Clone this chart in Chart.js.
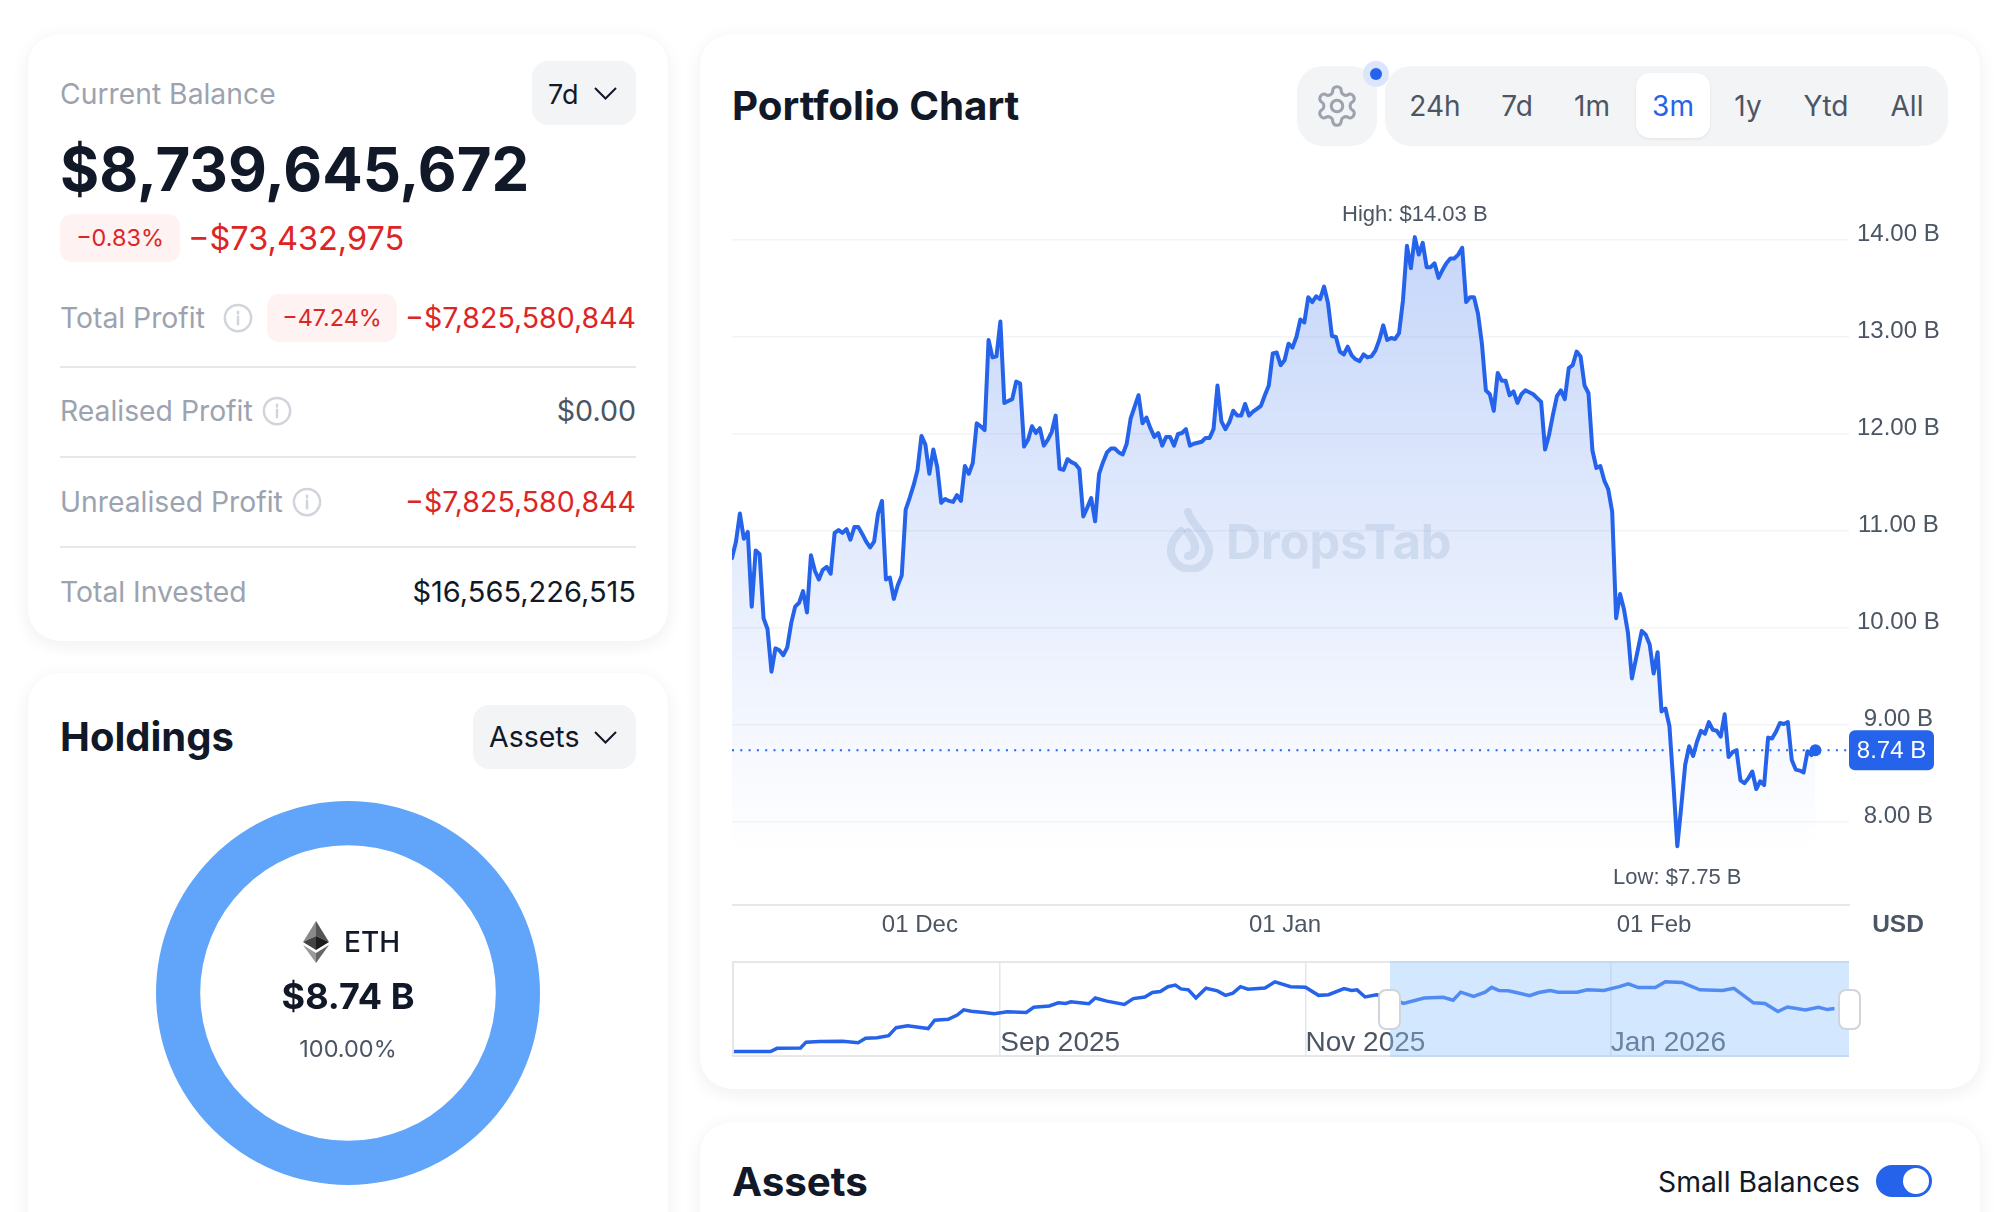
<!DOCTYPE html>
<html lang="en">
<head>
<meta charset="UTF-8">
<title>Portfolio Chart</title>
<script src="https://cdn.jsdelivr.net/npm/chart.js"></script>
<style>
    html, body { margin: 0; background: #fff; }
    body { width: 2004px; height: 1212px; overflow: hidden; position: relative; font-family: Inter, sans-serif; color: #111827; }
    .card { position: absolute; background: #fff; border-radius: 32px; box-shadow: 0 4px 18px rgba(17, 24, 39, .07); }
    .t { position: absolute; white-space: nowrap; line-height: 1; }
    .r { transform: translateX(-100%); }
    .c { transform: translateX(-50%); }
    .grey { color: #9ca3af; font-size: 28.3px; }
    .red { color: #dc2626; }
    .bold { font-weight: 700; }
    .box { position: absolute; background: #f3f4f6; }
    .badge { position: absolute; background: #fef2f2; border-radius: 12px; }
    .line { position: absolute; left: 60px; width: 576px; height: 2px; background: #e5e7eb; }
    .tab { font-size: 28px; color: #4b5563; top: 92px; transform: translateX(-50%); }
    svg { position: absolute; }
    canvas { position: absolute; display: block; }
    .handle { position: absolute; width: 23px; height: 41px; top: 989px; background: #fff; border: 2px solid #d1d5db; box-sizing: border-box; border-radius: 8px; }
</style>
</head>
<body>
    <svg width="0" height="0">
        <defs>
            <g id="info" fill="none" stroke="#d1d5db" stroke-width="2">
                <circle cx="12" cy="12" r="10.5"/>
                <path d="M12 11v6M12 7v1.4" stroke-linecap="round"/>
            </g>
        </defs>
    </svg>

    <!-- balance card -->
    <div class="card" style="left:28px;top:34px;width:640px;height:607px"></div>
    <div class="t grey" style="left:60px;top:80px">Current Balance</div>
    <div class="box" style="left:532px;top:61px;width:104px;height:64px;border-radius:16px"></div>
    <div class="t" style="left:548px;top:81px;font-size:27px">7d</div>
    <svg style="left:594px;top:86px" width="24" height="15"><path d="M1 2l10.5 10.5L22 2" fill="none" stroke="#111827" stroke-width="2"/></svg>
    <div class="t bold" style="left:60px;top:140px;font-size:59.9px">$8,739,645,672</div>
    <div class="badge" style="left:60px;top:214px;width:120px;height:48px"></div>
    <div class="t red c" style="left:120px;top:226px;font-size:23.4px">−0.83%</div>
    <div class="t red" style="left:188px;top:223px;font-size:32.5px">−$73,432,975</div>

    <div class="t grey" style="left:60px;top:304px">Total Profit</div>
    <svg style="left:223px;top:303px" width="30" height="30" viewBox="0 0 24 24"><use href="#info"/></svg>
    <div class="badge" style="left:267px;top:294px;width:130px;height:48px"></div>
    <div class="t red c" style="left:332px;top:306px;font-size:23.4px">−47.24%</div>
    <div class="t red r" style="left:636px;top:304px;font-size:28.5px">−$7,825,580,844</div>
    <div class="line" style="top:366px"></div>

    <div class="t grey" style="left:60px;top:397px">Realised Profit</div>
    <svg style="left:262px;top:396px" width="30" height="30" viewBox="0 0 24 24"><use href="#info"/></svg>
    <div class="t r" style="left:636px;top:397px;font-size:28.6px;color:#4b5563">$0.00</div>
    <div class="line" style="top:456px"></div>

    <div class="t grey" style="left:60px;top:488px">Unrealised Profit</div>
    <svg style="left:292px;top:487px" width="30" height="30" viewBox="0 0 24 24"><use href="#info"/></svg>
    <div class="t red r" style="left:636px;top:488px;font-size:28.5px">−$7,825,580,844</div>
    <div class="line" style="top:546px"></div>

    <div class="t grey" style="left:60px;top:578px">Total Invested</div>
    <div class="t r" style="left:636px;top:577px;font-size:29px">$16,565,226,515</div>

    <!-- holdings card -->
    <div class="card" style="left:28px;top:673px;width:640px;height:600px"></div>
    <div class="t bold" style="left:60px;top:717px;font-size:40px">Holdings</div>
    <div class="box" style="left:473px;top:705px;width:163px;height:64px;border-radius:16px"></div>
    <div class="t" style="left:489px;top:723px;font-size:28.5px">Assets</div>
    <svg style="left:594px;top:730px" width="24" height="15"><path d="M1 2l10.5 10.5L22 2" fill="none" stroke="#111827" stroke-width="2"/></svg>
    <canvas id="holdingsChart" width="384" height="384" style="left:156px;top:801px"></canvas>
    <svg style="left:303px;top:921px" width="26" height="42" viewBox="0 0 26 42">
        <polygon points="13,0 0,21 13,15" fill="#8a8a8a"/>
        <polygon points="13,0 26,21 13,15" fill="#555"/>
        <polygon points="13,15 0,21 13,29" fill="#444"/>
        <polygon points="13,15 26,21 13,29" fill="#1c1c1c"/>
        <polygon points="0,24 13,42 13,32" fill="#9a9a9a"/>
        <polygon points="26,24 13,42 13,32" fill="#666"/>
    </svg>
    <div class="t" style="left:344px;top:928px;font-size:28px;font-weight:500">ETH</div>
    <div class="t bold c" style="left:348px;top:978px;font-size:36px">$8.74 B</div>
    <div class="t c" style="left:348px;top:1037px;font-size:23.5px;color:#4b5563">100.00%</div>

    <!-- portfolio chart card -->
    <div class="card" style="left:700px;top:34px;width:1280px;height:1055px"></div>
    <div class="t bold" style="left:732px;top:86px;font-size:40.3px">Portfolio Chart</div>
    <div class="box" style="left:1297px;top:66px;width:80px;height:80px;border-radius:26px"></div>
    <svg style="left:1314px;top:83px" width="46" height="46" viewBox="0 0 24 24" fill="none" stroke="#9ca3af" stroke-width="1.6">
        <path d="M12.22 2h-.44a2 2 0 0 0-2 2v.18a2 2 0 0 1-1 1.73l-.43.25a2 2 0 0 1-2 0l-.15-.08a2 2 0 0 0-2.73.73l-.22.38a2 2 0 0 0 .73 2.73l.15.1a2 2 0 0 1 1 1.72v.51a2 2 0 0 1-1 1.74l-.15.09a2 2 0 0 0-.73 2.73l.22.38a2 2 0 0 0 2.73.73l.15-.08a2 2 0 0 1 2 0l.43.25a2 2 0 0 1 1 1.73V20a2 2 0 0 0 2 2h.44a2 2 0 0 0 2-2v-.18a2 2 0 0 1 1-1.73l.43-.25a2 2 0 0 1 2 0l.15.08a2 2 0 0 0 2.73-.73l.22-.39a2 2 0 0 0-.73-2.73l-.15-.08a2 2 0 0 1-1-1.74v-.5a2 2 0 0 1 1-1.74l.15-.09a2 2 0 0 0 .73-2.73l-.22-.38a2 2 0 0 0-2.73-.73l-.15.08a2 2 0 0 1-2 0l-.43-.25a2 2 0 0 1-1-1.73V4a2 2 0 0 0-2-2z"/>
        <circle cx="12" cy="12" r="3"/>
    </svg>
    <svg style="left:1362px;top:60px" width="28" height="28"><circle cx="14" cy="14" r="13" fill="#dbe6fd"/><circle cx="14" cy="14" r="6" fill="#2563eb"/></svg>
    <div class="box" style="left:1385px;top:66px;width:563px;height:80px;border-radius:26px"></div>
    <div class="box" style="left:1636px;top:73px;width:74px;height:65px;border-radius:14px;background:#fff;box-shadow:0 1px 3px rgba(0,0,0,.08)"></div>
    <div class="t tab" style="left:1435px">24h</div>
    <div class="t tab" style="left:1517px">7d</div>
    <div class="t tab" style="left:1592px">1m</div>
    <div class="t tab" style="left:1673px;color:#2563eb">3m</div>
    <div class="t tab" style="left:1748px">1y</div>
    <div class="t tab" style="left:1826px">Ytd</div>
    <div class="t tab" style="left:1907px">All</div>

    <canvas id="balanceChart" width="1215" height="790" style="left:732px;top:160px"></canvas>
    <svg style="left:1166px;top:508px" width="48" height="64" viewBox="0 0 48 64" fill="none" stroke="#5a78a0" stroke-opacity=".15" stroke-width="8" stroke-linecap="round">
        <path d="M22 4c2 10 16 20 20 32a19 19 0 1 1-36 0c2-6 6-10 9-13"/>
        <path d="M22 24c6 8 9 14 6 20-2 3-4 4-6 4"/>
    </svg>
    <div class="t bold" style="left:1226px;top:518px;font-size:48.6px;color:rgba(90,120,160,.15);font-family:Inter, sans-serif">DropsTab</div>
    <div class="t c" style="left:1898px;top:912px;font-size:24.5px;font-weight:700;color:#4b5563;font-family:'Liberation Sans', sans-serif">USD</div>

    <!-- range navigator -->
    <div style="position:absolute;left:732px;top:961px;width:1117px;height:96px;box-sizing:border-box;border:2px solid #e5e7eb;border-right:none">
        <canvas id="navChart" width="1115" height="92" style="left:0;top:0"></canvas>
    </div>
    <div style="position:absolute;left:1390px;top:961px;width:459px;height:96px;background:rgba(147,197,253,.41)"></div>
    <div class="handle" style="left:1378px"></div>
    <div class="handle" style="left:1838px"></div>

    <!-- assets card -->
    <div class="card" style="left:700px;top:1122px;width:1280px;height:200px"></div>
    <div class="t bold" style="left:732px;top:1162px;font-size:40.3px">Assets</div>
    <div class="t r" style="left:1860px;top:1168px;font-size:28.3px">Small Balances</div>
    <div class="box" style="left:1876px;top:1165px;width:56px;height:32px;border-radius:16px;background:#2563eb"></div>
    <div class="box" style="left:1903px;top:1168px;width:26px;height:26px;border-radius:13px;background:#fff"></div>

    <script>
        // values in billions of USD, one reading every 8 hours
        const balance = [
            10.72, 10.89, 11.18, 10.92, 10.99, 10.22, 10.80, 10.76, 10.10, 9.99,
            9.55, 9.79, 9.77, 9.72, 9.80, 10.05, 10.22, 10.26, 10.38, 10.16,
            10.75, 10.59, 10.50, 10.60, 10.63, 10.56, 10.98, 11.01, 10.98, 11.02,
            10.91, 11.04, 11.04, 10.97, 10.89, 10.83, 10.89, 11.18, 11.31, 10.50,
            10.52, 10.30, 10.44, 10.54, 11.22, 11.34, 11.47, 11.63, 11.98, 11.89,
            11.59, 11.84, 11.66, 11.29, 11.33, 11.31, 11.30, 11.37, 11.31, 11.67,
            11.59, 11.70, 12.11, 12.08, 12.04, 12.97, 12.79, 12.80, 13.16, 12.32,
            12.34, 12.36, 12.54, 12.52, 11.87, 11.94, 12.08, 12.01, 12.06, 11.88,
            11.94, 12.02, 12.19, 11.64, 11.63, 11.74, 11.71, 11.69, 11.64, 11.15,
            11.24, 11.34, 11.10, 11.59, 11.71, 11.81, 11.85, 11.85, 11.81, 11.79,
            11.90, 12.16, 12.28, 12.40, 12.11, 12.17, 12.06, 11.97, 12.01, 11.88,
            11.97, 11.97, 11.88, 12.00, 12.01, 12.05, 11.88, 11.90, 11.91,
            11.92, 11.96, 11.96, 12.05, 12.50, 12.13, 12.05, 12.12, 12.24, 12.19,
            12.19, 12.31, 12.19, 12.23, 12.26, 12.29, 12.40, 12.50, 12.83, 12.84,
            12.71, 12.76, 12.93, 12.89, 13.00, 13.18, 13.15, 13.41, 13.36, 13.42,
            13.39, 13.52, 13.35, 13.01, 13.00, 12.85, 12.82, 12.90, 12.81, 12.77,
            12.75, 12.82, 12.79, 12.80, 12.86, 12.97, 13.12, 12.97, 12.99, 12.98,
            13.04, 13.38, 13.94, 13.71, 14.03, 13.85, 13.97, 13.72, 13.72, 13.76,
            13.61, 13.69, 13.76, 13.81, 13.81, 13.85, 13.92, 13.36, 13.41, 13.41,
            13.24, 12.93, 12.45, 12.41, 12.24, 12.63, 12.55, 12.55, 12.40, 12.44,
            12.32, 12.41, 12.45, 12.43, 12.41, 12.37, 12.33, 11.84, 11.99, 12.20,
            12.39, 12.45, 12.36, 12.68, 12.71, 12.85, 12.80, 12.50, 12.42, 11.83,
            11.65, 11.67, 11.52, 11.43, 11.20, 10.10, 10.35, 10.19, 9.95, 9.48,
            9.97, 9.93, 9.83, 9.53, 9.75, 9.14, 9.17, 8.99, 8.40, 7.75,
            8.16, 8.59, 8.78, 8.68, 8.83, 8.94, 8.91, 9.03, 8.95, 8.94,
            8.88, 9.11, 8.67, 8.72, 8.74, 8.43, 8.40, 8.45, 8.52, 8.34,
            8.42, 8.38, 8.87, 8.86, 8.93, 9.02, 9.01, 9.03, 8.64, 8.54,
            8.53, 8.51, 8.73, 8.69, 8.74
        ];
        // the feed has a hole of 1.5 steps after this reading
        const gapAfter = 228;
        const gapSize = 1.5;
        const xEnd = 283;

        const yTickValues = [8, 9, 10, 11, 12, 13, 14];
        const xTickValues = [47.6, 140.1, 233.6];
        const xTickLabels = ['01 Dec', '01 Jan', '01 Feb'];
        const currentValue = 8.74;
        const highValue = 14.03;
        const lowValue = 7.75;

        // days from 1 Sep 2025, and billions of USD for the navigator line
        const navDays = [
            -53.2, -45.9, -44.6, -39.9, -38.8, -36.1, -31.5, -28.4, -26.9, -24.6,
            -22.3, -20.8, -18.5, -14.4, -13.1, -10.4, -8.6, -7.3, -5.8, -3.2,
            -1.2, 1.4, 5.2, 6.7, 9.8, 11.6, 13.1, 14.1, 15.9, 17.7,
            19.0, 21.3, 24.8, 26.6, 28.9, 30.4, 32.0, 33.5, 35.0, 36.1,
            37.6, 39.1, 41.1, 43.4, 45.0, 46.5, 48.0, 49.5, 52.9, 54.9,
            58.0, 61.0, 63.6, 65.6, 68.7, 70.2, 71.3, 72.9, 75.2, 77.8,
            80.6, 84.7, 88.5, 90.5, 92.0, 94.6, 96.9, 98.2, 99.7, 101.5,
            103.1, 105.8, 107.6, 109.9, 111.5, 115.3, 117.3, 120.6, 123.7, 125.5,
            127.5, 130.9, 132.9, 136.2, 139.8, 144.3, 146.6, 150.5, 152.8, 155.4,
            157.3, 160.9, 163.5, 165.3, 166.7
        ];
        const navBalance = [
            0.67, 0.67, 1.28, 1.35, 2.46, 2.58, 2.64, 2.33, 3.20, 3.32,
            3.69, 5.23, 5.60, 5.05, 6.65, 6.84, 7.64, 8.63, 8.38, 8.14,
            7.89, 8.26, 8.14, 9.12, 9.37, 9.99, 9.86, 10.17, 9.99, 9.80,
            10.91, 10.30, 9.68, 10.79, 11.10, 11.96, 12.15, 13.07, 13.38, 12.64,
            12.46, 10.91, 12.77, 12.27, 11.41, 11.84, 13.07, 12.58, 12.83, 14.00,
            13.07, 12.95, 11.41, 11.53, 12.70, 12.33, 12.46, 11.10, 11.53, 10.91,
            9.86, 10.91, 11.04, 10.48, 12.02, 11.22, 12.02, 12.95, 12.33, 12.27,
            11.96, 11.35, 11.96, 12.33, 12.02, 12.02, 12.46, 12.33, 13.07, 13.63,
            12.89, 12.89, 14.00, 13.88, 12.46, 12.33, 12.77, 9.99, 9.86, 8.32,
            9.19, 8.63, 9.12, 8.69, 8.88
        ];
        const navTickDays = [0, 61, 122];
        const navTickLabels = ['Sep 2025', 'Nov 2025', 'Jan 2026'];

        const holdingsLabels = ['ETH'];
        const holdingsValues = [100];

        const BLUE = '#2563eb';
        const CHART_FONT = "'Liberation Sans', Arial, sans-serif";

        const balancePoints = balance.map((v, i) => ({ x: i <= gapAfter ? i : i + gapSize, y: v }));
        const lastPoint = balancePoints[balancePoints.length - 1];
        const highPoint = balancePoints.find(p => p.y === highValue);
        const lowPoint = balancePoints.find(p => p.y === lowValue);

        // tick labels may overhang the plot, so keep the layout from shrinking it for them
        function noPadding(scale) {
            scale.paddingTop = scale.paddingBottom = scale.paddingLeft = scale.paddingRight = 0;
        }

        // High / Low captions and the blue price tag, placed through the scales
        const balanceLabels = {
            id: 'balanceLabels',
            afterDatasetsDraw(chart) {
                const { ctx, scales: { x, y } } = chart;
                ctx.save();
                ctx.font = '22px ' + CHART_FONT;
                ctx.fillStyle = '#4b5563';
                ctx.textAlign = 'center';
                ctx.textBaseline = 'middle';
                ctx.fillText('High: $14.03 B', x.getPixelForValue(highPoint.x), y.getPixelForValue(highValue) - 22);
                ctx.fillText('Low: $7.75 B', x.getPixelForValue(lowPoint.x), y.getPixelForValue(lowValue) + 32);

                const tagY = y.getPixelForValue(currentValue);
                const tagX = chart.chartArea.right;
                ctx.fillStyle = BLUE;
                ctx.beginPath();
                ctx.roundRect(tagX, tagY - 20, 85, 40, 6);
                ctx.fill();
                ctx.fillStyle = '#fff';
                ctx.font = '24px ' + CHART_FONT;
                ctx.fillText(currentValue.toFixed(2) + ' B', tagX + 42.5, tagY + 1);
                ctx.restore();
            }
        };

        new Chart(document.getElementById('balanceChart'), {
            type: 'line',
            data: {
                datasets: [
                    {
                        data: balancePoints,
                        borderColor: BLUE,
                        borderWidth: 4,
                        borderJoinStyle: 'round',
                        borderCapStyle: 'round',
                        pointRadius: 0,
                        tension: 0,
                        fill: 'start',
                        backgroundColor(context) {
                            const { ctx, chartArea, scales } = context.chart;
                            if (!chartArea) return 'transparent';
                            const g = ctx.createLinearGradient(0, scales.y.getPixelForValue(14), 0, scales.y.getPixelForValue(7.7));
                            g.addColorStop(0, 'rgba(37, 99, 235, 0.26)');
                            g.addColorStop(1, 'rgba(37, 99, 235, 0)');
                            return g;
                        }
                    },
                    {
                        data: [{ x: 0, y: currentValue }, { x: xEnd, y: currentValue }],
                        borderColor: BLUE,
                        borderWidth: 2,
                        borderDash: [2, 6.3],
                        pointRadius: 0,
                        fill: false
                    },
                    {
                        data: [lastPoint],
                        pointRadius: 6,
                        pointBackgroundColor: BLUE,
                        pointBorderWidth: 0,
                        showLine: false
                    }
                ]
            },
            options: {
                responsive: false,
                animation: false,
                layout: { padding: 0, autoPadding: false },
                plugins: { legend: { display: false }, tooltip: { enabled: false } },
                scales: {
                    x: {
                        type: 'linear',
                        min: 0,
                        max: xEnd,
                        grid: { display: false },
                        border: { color: '#e5e7eb', width: 2 },
                        afterBuildTicks(scale) { scale.ticks = xTickValues.map(value => ({ value })); },
                        afterFit(scale) { scale.height = 45; noPadding(scale); },
                        ticks: {
                            color: '#4b5563',
                            padding: -2,
                            maxRotation: 0,
                            autoSkip: false,
                            font: { family: CHART_FONT, size: 24 },
                            callback: v => xTickLabels[xTickValues.indexOf(v)]
                        }
                    },
                    y: {
                        position: 'right',
                        min: 7.144,
                        max: 14.825,
                        grid: { color: '#f3f4f6', lineWidth: 1.6, drawTicks: false },
                        border: { display: false },
                        afterBuildTicks(scale) { scale.ticks = yTickValues.map(value => ({ value })); },
                        afterFit(scale) { scale.width = 98; noPadding(scale); },
                        ticks: {
                            color: '#4b5563',
                            padding: 8,
                            crossAlign: 'center',
                            labelOffset: -6,
                            font: { family: CHART_FONT, size: 24 },
                            callback: v => v.toFixed(2) + ' B'
                        }
                    }
                }
            },
            plugins: [balanceLabels]
        });

        // month captions sit inside the navigator, to the right of each grid line
        const navLabels = {
            id: 'navLabels',
            afterDatasetsDraw(chart) {
                const { ctx, scales: { x } } = chart;
                ctx.save();
                ctx.font = '28px ' + CHART_FONT;
                ctx.fillStyle = '#4b5563';
                ctx.textBaseline = 'middle';
                navTickDays.forEach((d, i) => ctx.fillText(navTickLabels[i], x.getPixelForValue(d), 80));
                ctx.restore();
            }
        };

        new Chart(document.getElementById('navChart'), {
            type: 'line',
            data: {
                datasets: [{
                    data: navDays.map((d, i) => ({ x: d, y: navBalance[i] })),
                    borderColor: BLUE,
                    borderWidth: 3.5,
                    pointRadius: 0,
                    tension: 0
                }]
            },
            options: {
                responsive: false,
                animation: false,
                layout: { padding: 0, autoPadding: false },
                plugins: { legend: { display: false }, tooltip: { enabled: false } },
                scales: {
                    x: {
                        type: 'linear',
                        min: -53.2,
                        max: 169.6,
                        border: { display: false },
                        grid: { color: '#e5e7eb', lineWidth: 1.6, drawTicks: false },
                        afterBuildTicks(scale) { scale.ticks = navTickDays.map(value => ({ value })); },
                        afterFit: noPadding,
                        ticks: { display: false }
                    },
                    y: { display: false, min: 0, max: 17.6 }
                }
            },
            plugins: [navLabels]
        });

        new Chart(document.getElementById('holdingsChart'), {
            type: 'doughnut',
            data: {
                labels: holdingsLabels,
                datasets: [{ data: holdingsValues, backgroundColor: ['#60a5fa'], borderWidth: 0 }]
            },
            options: {
                responsive: false,
                animation: false,
                cutout: '77%',
                plugins: { legend: { display: false }, tooltip: { enabled: false } }
            }
        });
    </script>
</body>
</html>
